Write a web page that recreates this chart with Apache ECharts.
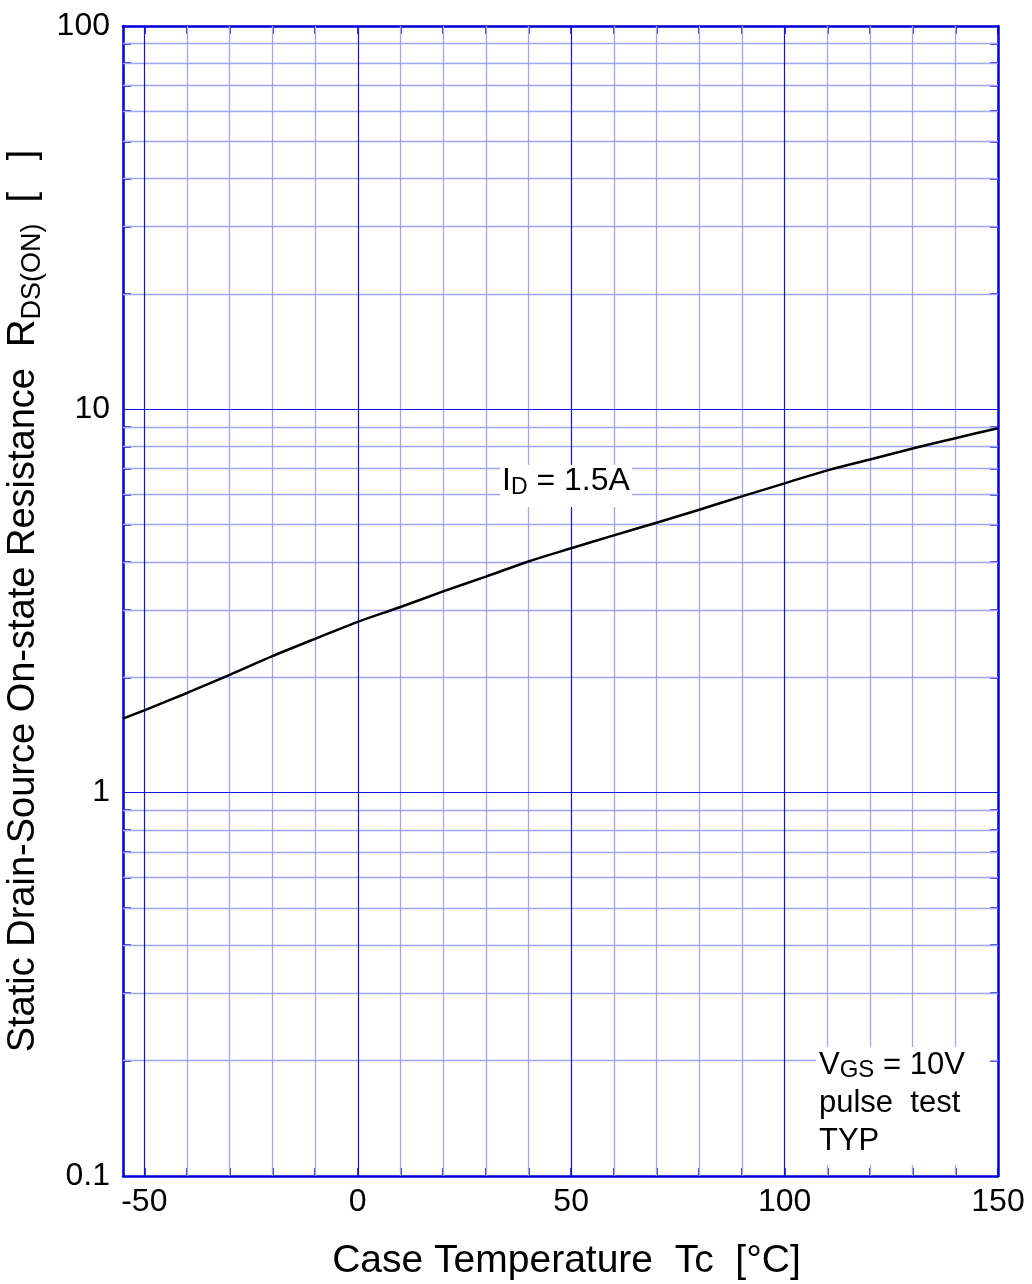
<!DOCTYPE html>
<html>
<head>
<meta charset="utf-8">
<script src="https://cdn.jsdelivr.net/npm/echarts@6/dist/echarts.min.js"></script>
<style>
html,body{margin:0;padding:0;background:#fff;}
#chart{width:1032px;height:1284px;}
</style>
</head>
<body>
<div id="chart"></div>
<script>
// Data
const temperatures = [-55, -50, -40, -30, -20, -10, 0, 10, 20, 30, 40, 50, 60, 70, 80, 90, 100, 110, 120, 130, 140, 150];
const rdsOn =        [1.56, 1.64, 1.82, 2.03, 2.27, 2.52, 2.79, 3.05, 3.35, 3.66, 4.01, 4.34, 4.69, 5.06, 5.47, 5.93, 6.41, 6.93, 7.40, 7.90, 8.41, 8.93];

// Axis ticks / grid
const xLabelValues = [-50, 0, 50, 100, 150];
const xMajorGrid = [-50, 0, 50, 100];
const xMinorGrid = [-40, -30, -20, -10, 10, 20, 30, 40, 60, 70, 80, 90, 110, 120, 130, 140];
const xTickValues = [-50, -40, -30, -20, -10, 0, 10, 20, 30, 40, 50, 60, 70, 80, 90, 100, 110, 120, 130, 140, 150];
const yLabelValues = [0.1, 1, 10, 100];
const yMajorGrid = [1, 10];
const yMinorGrid = [0.2, 0.3, 0.4, 0.5, 0.6, 0.7, 0.8, 0.9, 2, 3, 4, 5, 6, 7, 8, 9, 20, 30, 40, 50, 60, 70, 80, 90];

const DARK = '#0000d8';
const MAJOR = '#1414e0';
const LIGHT = '#a4a4f4';
const FONT = '"Liberation Sans", Arial, sans-serif';

const minorLines = xMinorGrid.map(v => ({xAxis: v})).concat(yMinorGrid.map(v => ({yAxis: v})));
const majorLines = xMajorGrid.map(v => ({xAxis: v})).concat(yMajorGrid.map(v => ({yAxis: v})));

const chart = echarts.init(document.getElementById('chart'), null, {renderer: 'canvas'});

const xCommon = {
  type: 'value', min: -55, max: 150,
  axisLine: {show: true, onZero: false, lineStyle: {color: DARK, width: 2.5}},
  axisTick: {show: true, inside: true, length: 8, customValues: xTickValues, lineStyle: {color: DARK, width: 1.5}},
  splitLine: {show: false}
};
const yCommon = {
  type: 'log', logBase: 10, min: 0.1, max: 100,
  axisLine: {show: true, onZero: false, lineStyle: {color: DARK, width: 2.5}},
  axisTick: {show: true, inside: true, length: 8, customValues: yMinorGrid, lineStyle: {color: DARK, width: 1.5}},
  splitLine: {show: false}
};

chart.setOption({
  animation: false,
  backgroundColor: '#ffffff',
  textStyle: {fontFamily: FONT},
  grid: {left: 123, right: 34, top: 26, bottom: 108, containLabel: false, outerBoundsMode: 'none'},
  xAxis: [
    Object.assign({}, xCommon, {
      position: 'bottom',
      name: 'Case Temperature  Tc  [°C]',
      nameLocation: 'middle', nameGap: 66,
      nameTextStyle: {fontSize: 39, color: '#000', fontFamily: FONT, padding: [0, 0, 0, 12]},
      axisLabel: {show: true, customValues: xLabelValues, fontSize: 32, color: '#000', margin: 10, fontFamily: FONT}
    }),
    Object.assign({}, xCommon, {position: 'top', axisLabel: {show: false}})
  ],
  yAxis: [
    Object.assign({}, yCommon, {
      position: 'left',
      name: '{n|Static Drain-Source On-state Resistance  R}{s|DS(ON)}{n|  [   ]}',
      nameLocation: 'middle', nameGap: 58, nameRotate: 90,
      nameTextStyle: {
        color: '#000', fontFamily: FONT,
        rich: {
          n: {fontSize: 38, color: '#000', fontFamily: FONT},
          s: {fontSize: 27, color: '#000', fontFamily: FONT, padding: [18, 0, 0, 0]}
        }
      },
      axisLabel: {show: true, customValues: yLabelValues, fontSize: 32, color: '#000', margin: 13, fontFamily: FONT,
        formatter: v => String(Number(v.toPrecision(3)))}
    }),
    Object.assign({}, yCommon, {position: 'right', axisLabel: {show: false}})
  ],
  series: [
    {
      type: 'line', xAxisIndex: 0, yAxisIndex: 0, data: [], z: 1, silent: true,
      markLine: {silent: true, symbol: ['none', 'none'], label: {show: false}, animation: false,
        lineStyle: {color: LIGHT, width: 1.3, type: 'solid'},
        emphasis: {disabled: true},
        data: minorLines}
    },
    {
      type: 'line', xAxisIndex: 0, yAxisIndex: 0, data: [], z: 2, silent: true,
      markLine: {silent: true, symbol: ['none', 'none'], label: {show: false}, animation: false,
        lineStyle: {color: MAJOR, width: 1.2, type: 'solid'},
        emphasis: {disabled: true},
        data: majorLines}
    },
    {
      type: 'line', xAxisIndex: 0, yAxisIndex: 0, z: 5,
      data: temperatures.map((t, i) => [t, rdsOn[i]]),
      smooth: 0.3, showSymbol: false, symbol: 'none',
      lineStyle: {color: '#000', width: 2.5}
    }
  ],
  graphic: [
    {
      type: 'rect', z: 10, shape: {x: 500, y: 465, width: 132, height: 42}, style: {fill: '#fff'}
    },
    {
      type: 'text', left: 502, top: 465, z: 11,
      style: {
        text: '{n|I}{s|D}{n| = 1.5A}',
        rich: {
          n: {fontSize: 32, fill: '#000', fontFamily: FONT},
          s: {fontSize: 23, fill: '#000', fontFamily: FONT, padding: [13, 0, 0, 0]}
        }
      }
    },
    {
      type: 'rect', z: 10, shape: {x: 816, y: 1047, width: 174, height: 118}, style: {fill: '#fff'}
    },
    {
      type: 'text', left: 819, top: 1048, z: 11,
      style: {
        text: '{n|V}{s|GS}{n| = 10V}\n{n|pulse  test}\n{n|TYP}',
        rich: {
          n: {fontSize: 31, fill: '#000', fontFamily: FONT, lineHeight: 38},
          s: {fontSize: 24, fill: '#000', fontFamily: FONT, padding: [10, 0, 0, 0], lineHeight: 38}
        }
      }
    }
  ]
});
</script>
</body>
</html>
